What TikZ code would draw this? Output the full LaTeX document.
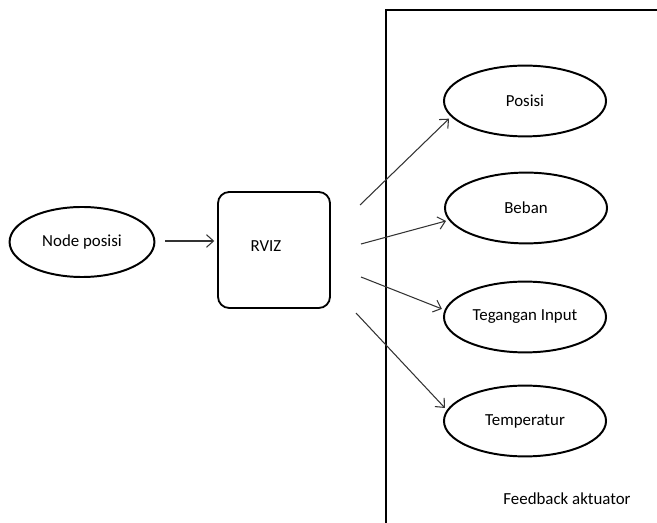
\documentclass[tikz,border=0pt]{standalone}
\usepackage{fontspec}
\setmainfont{Carlito}
\usetikzlibrary{
  arrows.meta,
  positioning,
  shapes.geometric
}

\begin{document}
\begin{tikzpicture}[
  x=0.025cm, y=-0.025cm,
  every node/.style={font=\fontsize{12}{14}\selectfont},
  >={Straight Barb[length=5pt,width=9pt]},
  oval/.style={ellipse, draw, line width=1.4pt, minimum width=4.05cm, minimum height=1.77cm},
  link/.style={->, line width=0.75pt, black!80, shorten >=2pt}
]
\useasboundingbox (0,0) rectangle (657,523);

% The source
\node[ellipse, draw, line width=1.4pt, minimum width=3.62cm, minimum height=1.75cm]
  (nodeposisi) at (82,242) {Node posisi};
\node[draw, line width=1.3pt, rounded corners=8pt,
      minimum width=2.8cm, minimum height=2.9cm] (rviz) at (274,250) {};
\node (rviztext) at (266,246) {RVIZ};

% The feedback frame
\draw[line width=0.9pt] (657,10) -- (386,10) -- (386,523);
\node (feedback) at (567,499) {Feedback aktuator};

% The outputs
\node[oval] (posisi) at (525,101) {Posisi};
\node[oval] (beban) at (526,208) {Beban};
\node[oval] (tegangan) at (525,317) {Tegangan Input};
\node[oval] (temperatur) at (525,421) {Temperatur};

% Arrows
\coordinate (s0) at (165,241);
\coordinate (s1) at (360,205);
\coordinate (s2) at (361,244);
\coordinate (s3) at (361,277);
\coordinate (s4) at (356,313);
\draw[link] (s0) -- (s0 -| rviz.west);
\draw[link] (s1) -- (posisi.192);
\draw[link] (s2) -- (beban.189);
\draw[link] (s3) -- (tegangan.175);
\draw[link] (s4) -- (temperatur.172);

\end{tikzpicture}
\end{document}
